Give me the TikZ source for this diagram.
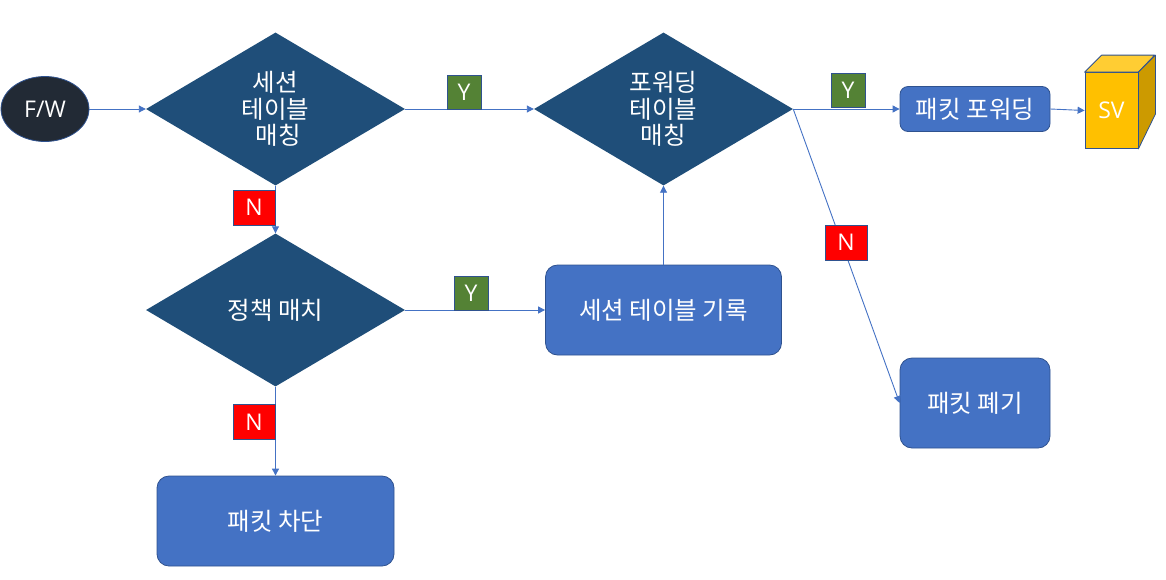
\documentclass[tikz,border=0pt]{standalone}
\usepackage{fontspec}
\setmainfont{Noto Sans CJK KR}
\newfontfamily\latinf{Open Sans}
\usetikzlibrary{shapes.geometric,arrows.meta}
\definecolor{linec}{HTML}{4472C4}
\definecolor{edgec}{HTML}{2F528F}
\definecolor{diac}{HTML}{1F4E79}
\definecolor{darkc}{HTML}{222A35}
\definecolor{greenc}{HTML}{548235}
\definecolor{cubec}{HTML}{FFC000}
\definecolor{cubetop}{HTML}{FFCD33}
\definecolor{cubeside}{HTML}{CC9A00}
\tikzset{
  every node/.style={font=\fontsize{24.5}{26.5}\selectfont,text=white,inner sep=0pt,align=center},
  dia/.style={shape=diamond,fill=diac,minimum width=259pt,minimum height=153pt,shape aspect=1.697},
  boxr/.style={draw=edgec,fill=linec,line width=0.8pt,rounded corners=12pt,minimum width=#1},
  boxr/.default=236pt,
  tagy/.style={draw=edgec,fill=greenc,line width=0.8pt,minimum width=34pt,minimum height=34pt,font=\latinf\fontsize{23}{26}\selectfont},
  tagn/.style={draw=edgec,fill=red,line width=0.8pt,minimum width=42pt,minimum height=35pt,font=\latinf\fontsize{23}{26}\selectfont},
  conn/.style={draw=linec,line width=0.9pt,-{Triangle[length=7pt,width=7pt]}},
}
\begin{document}
\begin{tikzpicture}[x=1pt,y=-1pt]
\useasboundingbox (0,0) rectangle (1166,579);
\node[shape=ellipse,draw=edgec,fill=darkc,line width=0.8pt,minimum width=88pt,minimum height=65pt,font=\latinf\fontsize{23}{26}\selectfont] (fw) at (45,109) {F/W};
\node[dia] (d1) at (275.5,109) {세션\\테이블\\\hspace*{5pt}매칭};
\node[dia] (d2) at (663.5,109) {포워딩\\테이블\\매칭};
\node[dia] (d3) at (275.5,310) {정책 매치};
\node[boxr=150pt,minimum height=45pt,rounded corners=8pt] (fwd) at (975,109) {패킷 포워딩};
\node[boxr,minimum height=90pt] (log) at (663.5,310) {세션 테이블 기록};
\node[boxr=150pt,minimum height=90pt] (drop) at (975,403) {패킷 폐기};
\node[boxr=237pt,minimum height=90pt] (block) at (275.5,521) {패킷 차단};
\node[draw=edgec,fill=cubec,line width=0.8pt,minimum width=53pt,minimum height=76pt,font=\latinf\fontsize{23}{26}\selectfont] (sv) at (1111.5,110.5) {SV};
\draw[draw=edgec,fill=cubetop,line width=0.8pt,line join=round] (sv.north west) -- ++(17,-17) -- ++(53,0) -- (sv.north east) -- cycle;
\draw[draw=edgec,fill=cubeside,line width=0.8pt,line join=round] (sv.north east) -- ++(17,-17) -- ++(0,59) -- (sv.south east) -- cycle;
\draw[conn] (fw.east) -- (d1.west);
\draw[conn] (d1.east) -- (d2.west);
\draw[conn] (d2.east) -- (fwd.west);
\draw[conn] (fwd.east) -- (sv.west);
\draw[conn] (d1.south) -- (d3.north);
\draw[conn] (d3.south) -- (block.north);
\draw[conn] (d3.east) -- (log.west);
\draw[conn] (log.north) -- (d2.south);
\draw[conn] (d2.east) -- (drop.west);
\node[tagy] (y1) at (464,92) {Y};
\node[tagy] (y2) at (848,90.5) {Y};
\node[tagy] (y3) at (471,293) {Y};
\node[tagn] (n1) at (254,207.5) {N};
\node[tagn] (n2) at (254,422) {N};
\node[tagn] (n3) at (846,242.5) {N};
\end{tikzpicture}
\end{document}
